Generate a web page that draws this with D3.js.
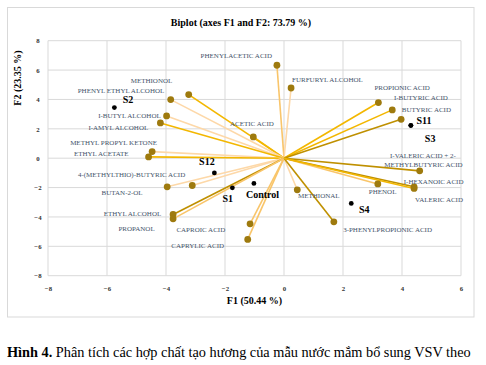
<!DOCTYPE html>
<html><head><meta charset="utf-8">
<script src="https://cdn.jsdelivr.net/npm/d3@7"></script>
<style>body{margin:0;background:#fff}svg{display:block}</style>
</head><body>
<svg id="c" width="486" height="365"></svg>
<script>
const xTicks = [-8,-6,-4,-2,0,2,4,6];
const yTicks = [-8,-6,-4,-2,0,2,4,6,8];
const varNames = ["PHENYLACETIC ACID","FURFURYL ALCOHOL","PROPIONIC ACID","I-BUTYRIC ACID","BUTYRIC ACID","ACETIC ACID","METHIONOL","PHENYL ETHYL ALCOHOL","I-BUTYL ALCOHOL","I-AMYL ALCOHOL","METHYL PROPYL KETONE","ETHYL ACETATE","4-(METHYLTHIO)-BUTYRIC ACID","BUTAN-2-OL","ETHYL ALCOHOL","PROPANOL","CAPROIC ACID","CAPRYLIC ACID","METHIONAL","3-PHENYLPROPIONIC ACID","PHENOL","I-VALERIC ACID + 2-|METHYLBUTYRIC ACID","I-HEXANOIC ACID","VALERIC ACID"];
const varF1 = [-0.24,0.24,3.20,3.67,3.97,-1.04,-3.23,-3.84,-3.98,-4.19,-4.47,-4.59,-3.11,-3.96,-3.76,-3.76,-1.15,-1.23,0.45,1.69,3.18,4.60,4.41,4.41];
const varF2 = [6.33,4.78,3.79,3.29,2.65,1.45,4.33,3.99,2.88,2.40,0.45,0.09,-1.86,-1.95,-3.83,-4.13,-4.47,-5.53,-2.15,-4.33,-1.75,-0.86,-1.95,-2.06];
const obsNames = ["S2","S11","S3","S12","S1","Control","S4"];
const obsF1 = [-5.75,4.30,4.30,-2.36,-1.75,-1.02,2.28];
const obsF2 = [3.45,2.24,2.22,-1.00,-2.02,-1.72,-3.08];

// styling (not data)
const GOLD="#F3B700", DARK="#BF9000", PEACH="#FDD8A8", LORANGE="#F9C56A";
const lineColor = {"PHENYLACETIC ACID":LORANGE,"FURFURYL ALCOHOL":PEACH,"PROPIONIC ACID":GOLD,"I-BUTYRIC ACID":GOLD,"BUTYRIC ACID":DARK,"ACETIC ACID":GOLD,"METHIONOL":GOLD,"PHENYL ETHYL ALCOHOL":PEACH,"I-BUTYL ALCOHOL":PEACH,"I-AMYL ALCOHOL":GOLD,"METHYL PROPYL KETONE":PEACH,"ETHYL ACETATE":GOLD,"4-(METHYLTHIO)-BUTYRIC ACID":PEACH,"BUTAN-2-OL":PEACH,"ETHYL ALCOHOL":DARK,"PROPANOL":LORANGE,"CAPROIC ACID":LORANGE,"CAPRYLIC ACID":LORANGE,"METHIONAL":PEACH,"3-PHENYLPROPIONIC ACID":DARK,"PHENOL":LORANGE,"I-VALERIC ACID + 2-|METHYLBUTYRIC ACID":DARK,"I-HEXANOIC ACID":DARK,"VALERIC ACID":GOLD};
const varLab = {"PHENYLACETIC ACID":[-76.3,-9.7],"FURFURYL ALCOHOL":[1,-8.7],"PROPIONIC ACID":[-4,-14.6],"I-BUTYRIC ACID":[1.7,-12.4],"BUTYRIC ACID":[0.7,-9.3],"ACETIC ACID":[-23.3,-13],"METHIONOL":[-58,-13.6],"PHENYL ETHYL ALCOHOL":[-93,-9.3],"I-BUTYL ALCOHOL":[-68.4,0],"I-AMYL ALCOHOL":[-72,4.6],"METHYL PROPYL KETONE":[-82,-8.6],"ETHYL ACETATE":[-74.7,-3.4],"4-(METHYLTHIO)-BUTYRIC ACID":[-114.3,-11],"BUTAN-2-OL":[-65.6,5.6],"ETHYL ALCOHOL":[-69.3,-0.6],"PROPANOL":[-54.7,9.6],"CAPROIC ACID":[-73.7,5.6],"CAPRYLIC ACID":[-76.4,6.4],"METHIONAL":[0.7,5.6],"3-PHENYLPROPIONIC ACID":[9.3,7.6],"PHENOL":[-9,8],"I-VALERIC ACID + 2-|METHYLBUTYRIC ACID":[-29.7,-15.4,-35.4,-6.4],"I-HEXANOIC ACID":[-10.3,-5.4],"VALERIC ACID":[1,11.4]};
const obsLab = {"S2":[8.4,-8],"S11":[5.7,-5],"S3":[14,12.7],"S12":[-15.3,-11],"S1":[-10,11],"Control":[-8,10.7],"S4":[7.7,6.4]};

const svg = d3.select("#c");
const SERIF = "'Liberation Serif','Times New Roman',serif";
svg.append("rect").attr("x",7.5).attr("y",7.5).attr("width",466.5).attr("height",309.5).attr("fill","#fff").attr("stroke","#d9d9d9");

const x = d3.scaleLinear().domain([-8,6]).range([48,461]);
const y = d3.scaleLinear().domain([-8,8]).range([275.7,40.7]);

const g = svg.append("g");
// grid
g.selectAll(".vg").data(xTicks).join("line").attr("x1",d=>x(d)).attr("x2",d=>x(d)).attr("y1",y(-8)).attr("y2",y(8)).attr("stroke","#d9d9d9").attr("stroke-width",1);
g.selectAll(".hg").data(yTicks).join("line").attr("x1",x(-8)).attr("x2",x(6)).attr("y1",d=>y(d)).attr("y2",d=>y(d)).attr("stroke","#d9d9d9").attr("stroke-width",1);

// axes (tick labels only)
const xa = svg.append("g").attr("transform",`translate(0,${y(-8)+7})`).call(d3.axisBottom(x).tickValues(xTicks).tickSize(0).tickFormat(d3.format("d")));
const ya = svg.append("g").attr("transform",`translate(${x(-8)-4},0)`).call(d3.axisLeft(y).tickValues(yTicks).tickSize(0).tickFormat(d3.format("d")));
[xa,ya].forEach(a=>{a.select(".domain").remove();a.selectAll("text").attr("font-family",SERIF).attr("font-size",6.8).attr("font-weight","bold").attr("fill","#333");});
ya.selectAll("text").attr("text-anchor","middle").attr("x",-6);

// vectors
const vars = varNames.map((n,i)=>({n,f1:varF1[i],f2:varF2[i]}));
g.selectAll(".vl").data(vars).join("line").attr("x1",x(0)).attr("y1",y(0)).attr("x2",d=>x(d.f1)).attr("y2",d=>y(d.f2)).attr("stroke",d=>lineColor[d.n]).attr("stroke-width",1.6);
g.selectAll(".vd").data(vars).join("circle").attr("cx",d=>x(d.f1)).attr("cy",d=>y(d.f2)).attr("r",3.4).attr("fill","#9E7A0E");
vars.forEach(d=>{
  const o = varLab[d.n]; const parts = d.n.split("|");
  parts.forEach((p,k)=>{
    g.append("text").attr("x",x(d.f1)+o[k*2]).attr("y",y(d.f2)+o[k*2+1]).attr("dy","0.35em")
     .attr("font-family",SERIF).attr("font-size",7).attr("fill","#44546A").text(p);
  });
});

// observations
const obs = obsNames.map((n,i)=>({n,f1:obsF1[i],f2:obsF2[i]}));
g.selectAll(".od").data(obs).join("circle").attr("cx",d=>x(d.f1)).attr("cy",d=>y(d.f2)).attr("r",2.4).attr("fill","#000");
g.selectAll(".ot").data(obs).join("text").attr("x",d=>x(d.f1)+obsLab[d.n][0]).attr("y",d=>y(d.f2)+obsLab[d.n][1]).attr("dy","0.35em")
  .attr("font-family",SERIF).attr("font-size",10).attr("font-weight","bold").attr("fill","#000").text(d=>d.n);

// titles
svg.append("text").attr("x",241).attr("y",22).attr("dy","0.35em").attr("text-anchor","middle").attr("font-family",SERIF).attr("font-size",10).attr("font-weight","bold").text("Biplot (axes F1 and F2: 73.79 %)");
svg.append("text").attr("x",254.5).attr("y",300).attr("dy","0.35em").attr("text-anchor","middle").attr("font-family",SERIF).attr("font-size",10).attr("font-weight","bold").text("F1 (50.44 %)");
svg.append("text").attr("transform","translate(17,78) rotate(-90)").attr("dy","0.35em").attr("text-anchor","middle").attr("font-family",SERIF).attr("font-size",10).attr("font-weight","bold").text("F2 (23.35 %)");

// caption
const cap = svg.append("text").attr("x",7).attr("y",356.5).attr("font-family",SERIF).attr("font-size",14.3).attr("fill","#000");
cap.append("tspan").attr("font-weight","bold").text("Hình 4.");
cap.append("tspan").text(" Phân tích các hợp chất tạo hương của mẫu nước mắm bổ sung VSV theo");
</script>
</body></html>
